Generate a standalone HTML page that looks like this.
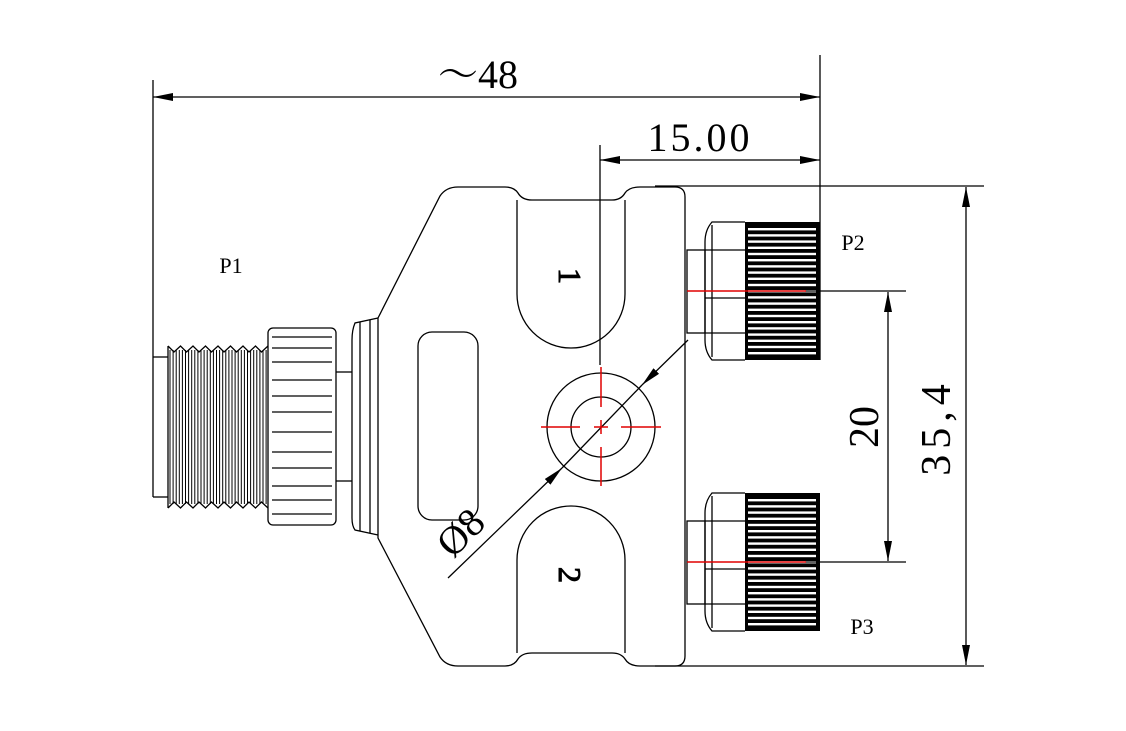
<!DOCTYPE html>
<html><head><meta charset="utf-8"><style>
html,body{margin:0;padding:0;background:#fff;width:1126px;height:731px;overflow:hidden}
svg{display:block}
text{font-family:"Liberation Serif","Noto Serif CJK SC",serif;fill:#000}
</style></head><body>
<svg id="s" width="1126" height="731" viewBox="0 0 1126 731" xmlns="http://www.w3.org/2000/svg">
<defs>
<marker id="a" viewBox="0 0 20 8" refX="20" refY="4" markerWidth="20" markerHeight="8" markerUnits="userSpaceOnUse" orient="auto-start-reverse"><path d="M0,0 L20,4 L0,8 Z" fill="#000"/></marker>
</defs>
<g fill="none" stroke="#000" stroke-width="1.3">
<path d="M378,318 L440,196 Q446,187 458,187 L505,187 Q514,187 518,193 Q522,200 532,200 L612,200 Q621,200 625,193 Q629,187 640,187 L675,187 Q685,187 685,197 L685,656 Q685,666 675,666 L640,666 Q629,666 625,659 Q621,653 612,653 L532,653 Q522,653 518,659 Q514,666 505,666 L458,666 Q446,666 440,657 L378,538 Z"/>
<path d="M517,200 L517,294 A54,54 0 0 0 625,294 L625,200"/>
<path d="M517,653 L517,560 A54,54 0 0 1 625,560 L625,653"/>
<rect x="418" y="332" width="60" height="188" rx="14"/>
<circle cx="601" cy="427" r="54"/>
<circle cx="601" cy="427" r="30"/>
<path d="M378,318 L355,323 Q352,330 352,340 L352,518 Q352,526 355,530 L378,535"/>
<line x1="360" y1="322" x2="360" y2="531"/><line x1="370" y1="320" x2="370" y2="533"/>
<line x1="336" y1="372" x2="352" y2="372"/><line x1="336" y1="481" x2="352" y2="481"/>
<rect x="268" y="328" width="68" height="197" rx="5"/>
<g id="nutl"></g>
<g id="thr"></g>
<line x1="153" y1="357" x2="168" y2="357"/><line x1="153" y1="497" x2="168" y2="497"/>
<g id="rc"></g>
<line x1="153" y1="80" x2="153" y2="497"/>
<line x1="820" y1="55" x2="820" y2="360"/>
<line x1="600" y1="145" x2="600" y2="365"/>
<line x1="655" y1="186" x2="984" y2="186"/>
<line x1="655" y1="666" x2="984" y2="666"/>
<line x1="805" y1="291" x2="906" y2="291"/>
<line x1="805" y1="562" x2="906" y2="562"/>
<line x1="153" y1="97" x2="820" y2="97" marker-start="url(#a)" marker-end="url(#a)"/>
<line x1="600" y1="160" x2="820" y2="160" marker-start="url(#a)" marker-end="url(#a)"/>
<line x1="966" y1="187" x2="966" y2="665" marker-start="url(#a)" marker-end="url(#a)"/>
<line x1="888" y1="292" x2="888" y2="561" marker-start="url(#a)" marker-end="url(#a)"/>
<line x1="688" y1="340" x2="642" y2="385" marker-end="url(#a)"/>
<line x1="448" y1="578" x2="562" y2="468" marker-end="url(#a)"/>
<line x1="562" y1="468" x2="642" y2="385"/>
</g>
<g stroke="#e00000" stroke-width="1.5">
<line x1="541" y1="427" x2="580" y2="427"/><line x1="594" y1="427" x2="608" y2="427"/><line x1="621" y1="427" x2="661" y2="427"/>
<line x1="601" y1="367" x2="601" y2="407"/><line x1="601" y1="420" x2="601" y2="434"/><line x1="601" y1="447" x2="601" y2="486"/>
<line x1="687" y1="291" x2="806" y2="291"/><line x1="687" y1="562" x2="806" y2="562"/>
</g>
<text x="478" y="88" font-size="40" text-anchor="middle" font-family="Liberation Serif, Noto Serif CJK SC, serif">〜48</text>
<text x="700" y="151" font-size="40" text-anchor="middle" letter-spacing="3">15.00</text>
<text font-size="42" text-anchor="middle" transform="translate(878,427) rotate(-90)">20</text>
<text font-size="42" text-anchor="middle" letter-spacing="6" transform="translate(950,427) rotate(-90)">35,4</text>
<text font-size="40" text-anchor="middle" transform="translate(470,542) rotate(-45)">Ø8</text>
<text font-size="32" text-anchor="middle" fill="#fff" stroke="#000" stroke-width="1" transform="translate(559,276) rotate(90)">1</text>
<text font-size="32" text-anchor="middle" fill="#fff" stroke="#000" stroke-width="1" transform="translate(559,575) rotate(90)">2</text>
<text x="231" y="273" font-size="22" text-anchor="middle">P1</text>
<text x="853" y="250" font-size="22" text-anchor="middle">P2</text>
<text x="862" y="634" font-size="22" text-anchor="middle">P3</text>
</svg>
<script>
var NS="http://www.w3.org/2000/svg";
function L(g,x1,y1,x2,y2,w){var l=document.createElementNS(NS,"line");l.setAttribute("x1",x1);l.setAttribute("y1",y1);l.setAttribute("x2",x2);l.setAttribute("y2",y2);if(w)l.setAttribute("stroke-width",w);g.appendChild(l);}
function R(g,x,y,w,h,f){var r=document.createElementNS(NS,"rect");r.setAttribute("x",x);r.setAttribute("y",y);r.setAttribute("width",w);r.setAttribute("height",h);if(f){r.setAttribute("fill","#000");r.setAttribute("stroke","none");}g.appendChild(r);}
var n=document.getElementById("nutl");
[337,348,362,380,396,412,432,452,468,486,500,514].forEach(function(y){L(n,272,y,332,y);});
var t=document.getElementById("thr");
var p="M168,346";for(var x=168;x<268;x+=12.5){p+=" L"+(x+6)+",352 L"+(x+12.5)+",346";}
p+=" M168,508";for(var x=168;x<268;x+=12.5){p+=" L"+(x+6)+",502 L"+(x+12.5)+",508";}
var pa=document.createElementNS(NS,"path");pa.setAttribute("d",p);t.appendChild(pa);
L(t,168,346,168,508);
for(var x=170;x<268;x+=3.1){L(t,x,350,x,504,1);}
var rc=document.getElementById("rc");
[222,493].forEach(function(y0){
 R(rc,687,y0+28,18,83);
 var pa=document.createElementNS(NS,"path");
 pa.setAttribute("d","M745,"+y0+" L712,"+y0+" Q705,"+(y0+8)+" 705,"+(y0+20)+" L705,"+(y0+118)+" Q705,"+(y0+130)+" 712,"+(y0+138)+" L745,"+(y0+138));rc.appendChild(pa);
 L(rc,712,y0+3,712,y0+135);
 [y0+28,y0+76,y0+111].forEach(function(y){L(rc,705,y,745,y);});
 R(rc,745,y0,75,138,true);
 for(var y=y0+6;y<y0+134;y+=6.2){var r=document.createElementNS(NS,"rect");r.setAttribute("x",748);r.setAttribute("y",y);r.setAttribute("width",68);r.setAttribute("height",2.4);r.setAttribute("fill","#fff");r.setAttribute("stroke","none");rc.appendChild(r);}
});
</script>
</body></html>
